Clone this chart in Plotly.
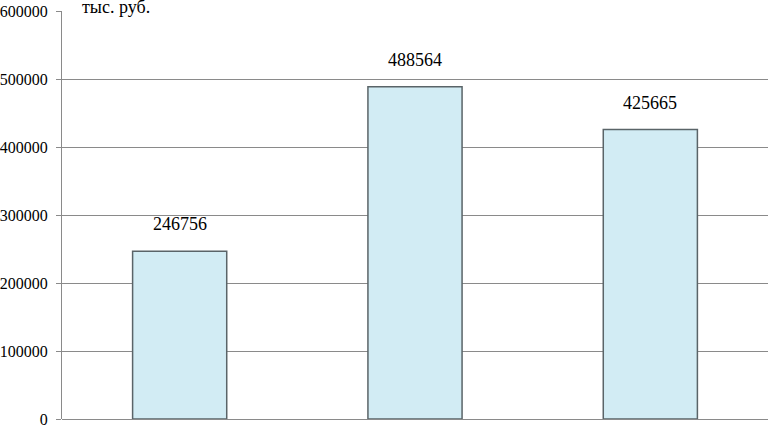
import plotly.graph_objects as go

# ---------------------------------------
# data
# ---------------------------------------
categories = ["A", "B", "C"]
values = [246756, 488564, 425665]
y_ticks = [0, 100000, 200000, 300000, 400000, 500000, 600000]

font_family = "Liberation Serif"

fig = go.Figure(go.Bar(
    x=categories,
    y=values,
    width=0.4,
    marker=dict(color="#D2ECF4", line=dict(color="#5A6468", width=1.5)),
    hoverinfo="skip"
))

for c, v in zip(categories, values):
    fig.add_annotation(
        x=c, y=v, text=str(v), showarrow=False,
        yshift=27, font=dict(family=font_family, size=18, color="black")
    )

fig.add_annotation(
    xref="paper", yref="paper", x=0.025, y=1.01,
    xanchor="left", yanchor="middle", text="тыс. руб.",
    showarrow=False, font=dict(family=font_family, size=18, color="black")
)

fig.update_xaxes(showticklabels=False, showline=False, showgrid=False,
                 zeroline=False, ticks="", automargin=False)
fig.update_yaxes(
    range=[0, 600000], tickvals=y_ticks, ticktext=[str(t) for t in y_ticks],
    showgrid=True, gridcolor="#8A8A8A", gridwidth=1,
    showline=True, linecolor="#8A8A8A", linewidth=1,
    zeroline=True, zerolinecolor="#8A8A8A", zerolinewidth=1,
    ticks="outside", ticklen=5, tickcolor="#8A8A8A",
    ticklabelstandoff=5, ticklabeloverflow="allow", automargin=False,
    tickfont=dict(family=font_family, size=16, color="black")
)

fig.update_layout(
    width=769, height=425,
    margin=dict(l=62, r=1, t=11, b=6, autoexpand=False),
    plot_bgcolor="white", paper_bgcolor="white",
    font=dict(family=font_family),
    showlegend=False
)

# the page body has a default margin, drop it so the chart sits at 0,0
fig.write_html("out.html", config={"displayModeBar": False},
               post_script="document.body.style.margin='0';")
